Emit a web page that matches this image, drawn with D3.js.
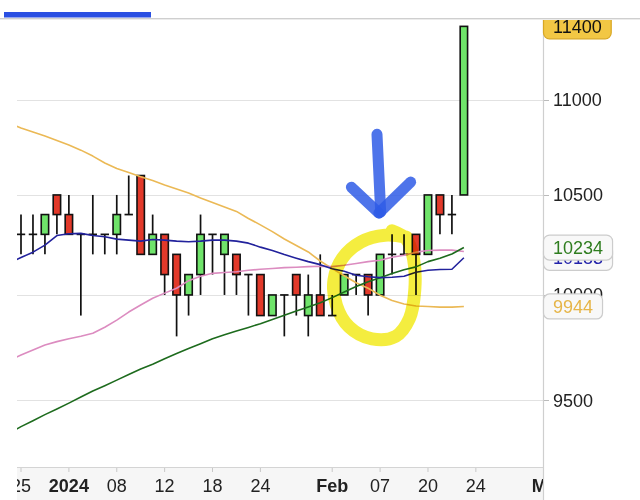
<!DOCTYPE html>
<html><head><meta charset="utf-8">
<script src="https://cdn.jsdelivr.net/npm/d3@7"></script>
<style>
html,body{margin:0;padding:0;background:#fff;}
svg{display:block;font-family:"Liberation Sans",Arial,Helvetica,sans-serif;}
</style></head><body>
<svg id="chart" width="640" height="500"></svg>
<script>
// ---------- data ----------
// candles, index 0..37
const candleOpen  = [10300,10300,10300,10500,10400,10300,10300,10300,10300,10400,10600,10200,10300,10200,10000,10100,10300,10200,10200,10100,10100,9900,10000,10100,9900,10000,9900,10000,10100,10100,10000,10200,10200,10300,10200,10500,10400,10500];
const candleHigh  = [10400,10400,10400,10500,10500,10300,10500,10300,10500,10600,10600,10400,10300,10200,10100,10400,10300,10300,10200,10100,10100,10000,10000,10100,10100,10200,10000,10100,10100,10100,10200,10300,10300,10300,10500,10500,10500,11400];
const candleLow   = [10200,10200,10200,10300,10300,9900,10200,10200,10200,10400,10200,10200,10000,9800,9900,10000,10100,10000,10000,9900,9900,9900,9800,9900,9800,9900,9900,10000,10000,9900,10000,10100,10200,10000,10200,10300,10300,10500];
const candleClose = [10300,10300,10400,10400,10300,10300,10300,10300,10400,10400,10200,10300,10100,10000,10100,10300,10300,10300,10100,10100,9900,10000,10000,10000,10000,9900,9900,10100,10100,10000,10200,10200,10200,10200,10500,10400,10400,11400];
// moving averages, index -1..37
const maFirstIndex = -1;
const maShort = [10156,10184,10211,10246,10294,10303,10305,10294,10288,10276,10271,10266,10274,10271,10266,10263,10266,10271,10271,10266,10256,10236,10219,10199,10181,10164,10149,10129,10116,10097,10089,10085,10087,10092,10111,10121,10125,10126,10183];
const maMid   = [9687,9711,9735,9759,9775,9789,9801,9815,9844,9878,9917,9951,9984,10009,10033,10070,10092,10106,10110,10114,10121,10126,10130,10134,10136,10139,10141,10139,10146,10155,10164,10171,10186,10196,10211,10219,10221,10221,10214];
const maLong  = [9346,9378,9405,9433,9459,9486,9514,9542,9567,9593,9619,9645,9668,9694,9718,9742,9765,9789,9808,9826,9843,9861,9881,9901,9922,9942,9962,9987,10014,10041,10065,10084,10105,10124,10138,10164,10181,10202,10234];
const maTrend = [10875,10848,10827,10806,10782,10759,10732,10701,10665,10636,10615,10594,10574,10551,10530,10510,10484,10461,10438,10416,10380,10348,10314,10277,10244,10212,10167,10129,10094,10060,10033,9999,9973,9956,9946,9944,9941,9941,9944];
// axes
const yTicks = [9500,10000,10500,11000];
const xTickIndex  = [0,4,8,12,16,20,26,30,34,38,44];
const xTickLabels = ["25","2024","08","12","18","24","Feb","07","20","24","Mar"];
// hand-drawn annotations, in (index, price)
const circleNote = [[32.2,10286],[30.41,10296],[28.4,10262],[26.85,10181],[26.15,10075],[26.35,9950],[27.4,9846],[29.32,9788],[31.3,9800],[32.45,9885],[32.9,10025],[32.8,10175],[32.2,10276],[31.0,10318]];
const arrowStem  = [[29.74,10815],[30.05,10413]];
const arrowLeft  = [[27.6,10540],[29.9,10408]];
const arrowRight = [[29.9,10408],[32.55,10566]];

// ---------- chart ----------
const plot = {left:17, right:543, top:19, bottom:467};
const svg = d3.select("#chart");
const x = d3.scaleLinear().domain([-0.334, 43.61]).range([plot.left, plot.right]);
const y = d3.scaleLog().domain([9195, 11441]).range([plot.bottom, plot.top]);
const fmt = d3.format("d");

svg.append("rect").attr("width",640).attr("height",500).attr("fill","#fff");

const defs = svg.append("defs");
defs.append("clipPath").attr("id","plotClip").append("rect")
  .attr("x",plot.left).attr("y",plot.top).attr("width",plot.right-plot.left).attr("height",plot.bottom-plot.top);
defs.append("clipPath").attr("id","xClip").append("rect")
  .attr("x",plot.left).attr("y",plot.bottom).attr("width",plot.right-plot.left).attr("height",40);

// x axis band
svg.append("rect").attr("x",plot.left).attr("y",plot.bottom).attr("width",plot.right-plot.left).attr("height",33)
  .attr("fill","#f6f6f6");
svg.append("line").attr("x1",plot.left).attr("x2",plot.right).attr("y1",plot.bottom+0.5).attr("y2",plot.bottom+0.5)
  .attr("stroke","#d4d4d4");

// grid
svg.append("g").selectAll("line").data(yTicks).join("line")
  .attr("x1",plot.left).attr("x2",plot.right)
  .attr("y1",d=>Math.round(y(d))+0.5).attr("y2",d=>Math.round(y(d))+0.5)
  .attr("stroke","#e2e2e2").attr("stroke-width",1.2);

const pg = svg.append("g").attr("clip-path","url(#plotClip)");

// candles
const candles = candleOpen.map((o,i)=>({i, o, h:candleHigh[i], l:candleLow[i], c:candleClose[i]}));
const bw = 7.4;
const cg = pg.append("g");
cg.selectAll("line.wick").data(candles).join("line").attr("class","wick")
  .attr("x1",d=>x(d.i)).attr("x2",d=>x(d.i))
  .attr("y1",d=>y(d.h)).attr("y2",d=>y(d.l))
  .attr("stroke","#111").attr("stroke-width",1.7);
cg.selectAll("rect.body").data(candles.filter(d=>d.o!==d.c)).join("rect").attr("class","body")
  .attr("x",d=>x(d.i)-bw/2).attr("width",bw)
  .attr("y",d=>y(Math.max(d.o,d.c))).attr("height",d=>y(Math.min(d.o,d.c))-y(Math.max(d.o,d.c)))
  .attr("fill",d=>d.c>d.o?"#6fe46a":"#e2392a")
  .attr("stroke","#111").attr("stroke-width",1.6);
cg.selectAll("line.doji").data(candles.filter(d=>d.o===d.c)).join("line").attr("class","doji")
  .attr("x1",d=>x(d.i)-bw/2-0.5).attr("x2",d=>x(d.i)+bw/2+0.5)
  .attr("y1",d=>y(d.o)).attr("y2",d=>y(d.o))
  .attr("stroke","#111").attr("stroke-width",1.7);

// moving averages
const maLine = d3.line().x((d,k)=>x(k+maFirstIndex)).y(d=>y(d));
[[maTrend,"#ebb955"],[maMid,"#dc8cc0"],[maLong,"#1d6b1d"],[maShort,"#22229c"]].forEach(([s,col])=>{
  pg.append("path").datum(s).attr("d",maLine).attr("fill","none")
    .attr("stroke",col).attr("stroke-width",1.6).attr("stroke-linejoin","round");
});

// y axis
svg.append("line").attr("x1",plot.right+0.5).attr("x2",plot.right+0.5).attr("y1",plot.top).attr("y2",500)
  .attr("stroke","#cfcfcf").attr("stroke-width",1.2);
const ya = svg.append("g");
ya.selectAll("line").data(yTicks).join("line")
  .attr("x1",plot.right+1).attr("x2",plot.right+6)
  .attr("y1",d=>Math.round(y(d))+0.5).attr("y2",d=>Math.round(y(d))+0.5)
  .attr("stroke","#bbb");
ya.selectAll("text").data(yTicks).join("text")
  .attr("x",553).attr("y",d=>y(d)).attr("dy","0.36em")
  .attr("font-size",18).attr("fill","#222").text(d=>fmt(d));

// x axis
const xa = svg.append("g").attr("clip-path","url(#xClip)");
xa.selectAll("line").data(xTickIndex).join("line")
  .attr("x1",d=>x(d)).attr("x2",d=>x(d)).attr("y1",plot.bottom+1).attr("y2",plot.bottom+5)
  .attr("stroke","#c8c8c8");
xa.selectAll("text").data(xTickIndex).join("text")
  .attr("x",d=>x(d)).attr("y",492).attr("text-anchor","middle")
  .attr("font-size",18).attr("fill","#222")
  .attr("font-weight",(d,k)=>/^\d\d$/.test(xTickLabels[k])?"normal":"bold")
  .text((d,k)=>xTickLabels[k]);

// value badges
function badge(value, color, fill, stroke){
  const cy = y(value);
  const g = svg.append("g");
  const t = g.append("text").attr("x",553).attr("y",cy).attr("dy","0.36em")
    .attr("font-size",18).attr("fill",color).text(fmt(value));
  const w = t.node().getComputedTextLength();
  g.insert("rect","text").attr("x",plot.right+0.5).attr("y",cy-12.5).attr("width",w+19).attr("height",25)
    .attr("rx",6).attr("fill",fill).attr("stroke",stroke).attr("stroke-width",1.2);
}
badge(maShort[maShort.length-1],"#2222aa","#f8f8f8","#cccccc");
badge(maLong[maLong.length-1],"#2f7d1f","#f8f8f8","#cccccc");
badge(maTrend[maTrend.length-1],"#e6b548","#f8f8f8","#cccccc");
badge(candleClose[candleClose.length-1],"#111","#f2c744","#d8a723");

// annotations (highlighter marks)
const ann = svg.append("g");
ann.append("path").datum(circleNote)
  .attr("d",d3.line().x(d=>x(d[0])).y(d=>y(d[1])).curve(d3.curveCatmullRom))
  .attr("fill","none").attr("stroke","#f4ec2e").attr("stroke-width",13)
  .attr("stroke-linecap","round").attr("stroke-linejoin","round")
  .style("mix-blend-mode","multiply").attr("opacity",0.92);
[arrowStem,arrowLeft,arrowRight].forEach(seg=>{
  ann.append("path").datum(seg)
    .attr("d",d3.line().x(d=>x(d[0])).y(d=>y(d[1])))
    .attr("fill","none").attr("stroke","#2f5ce6").attr("stroke-width",11)
    .attr("stroke-linecap","round").attr("opacity",0.85);
});

// header bar
svg.append("rect").attr("x",0).attr("y",0).attr("width",640).attr("height",18).attr("fill","#fff");
svg.append("line").attr("x1",0).attr("x2",640).attr("y1",18.5).attr("y2",18.5).attr("stroke","#cfcfcf");
svg.append("line").attr("x1",0).attr("x2",640).attr("y1",19.5).attr("y2",19.5).attr("stroke","#ececec");
svg.append("rect").attr("x",4).attr("y",12).attr("width",147).attr("height",5.5).attr("fill","#2a4fe2");
</script>
</body></html>
